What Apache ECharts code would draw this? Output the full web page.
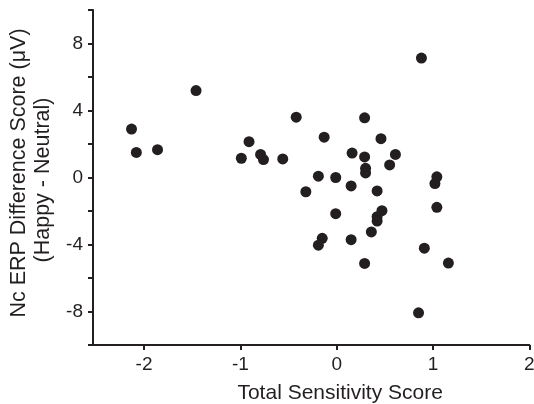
<!DOCTYPE html>
<html>
<head>
<meta charset="utf-8">
<script src="https://cdn.jsdelivr.net/npm/echarts@6/dist/echarts.min.js"></script>
<style>
html,body{margin:0;padding:0;background:#fff;}
#chart{width:534px;height:404px;}
</style>
</head>
<body>
<div id="chart"></div>
<script>
const sensitivity = [-2.13, -2.08, -1.86, -1.46, -0.99, -0.91, -0.79, -0.76, -0.56,
  -0.42, 0.29, -0.13, 0.46, 0.16, 0.29, 0.61, 0.55, 0.30, 0.30, -0.19, -0.01, 1.04, 1.02,
  0.15, -0.32, 0.42, -0.01, 0.47, 0.42, 0.42, 1.04, 0.36, -0.15, -0.19, 0.15, 0.91, 0.29,
  1.16, 0.88, 0.85];
const ercDiff = [2.89, 1.50, 1.66, 5.19, 1.15, 2.14, 1.38, 1.07, 1.11,
  3.60, 3.56, 2.41, 2.32, 1.46, 1.23, 1.38, 0.75, 0.55, 0.27, 0.08, 0.00, 0.04, -0.36,
  -0.50, -0.85, -0.80, -2.16, -1.98, -2.34, -2.60, -1.78, -3.25, -3.63, -4.04, -3.71, -4.22, -5.13,
  -5.11, 7.13, -8.08];
const xTicks = [-2, -1, 0, 1, 2];
const yLabelTicks = [-8, -4, 0, 4, 8];
const yMinorTicks = [-10, -8, -6, -4, -2, 0, 2, 4, 6, 8, 10];
const xName = 'Total Sensitivity Score';
const yNameLine1 = 'Nc ERP Difference Score (\u03bcV)';
const yNameLine2 = '(Happy - Neutral)';

const points = sensitivity.map((x, i) => [x, ercDiff[i]]);
const ink = '#231f20';
const font = 'Liberation Sans, Arial, Helvetica, sans-serif';

const chart = echarts.init(document.getElementById('chart'), null, {renderer: 'canvas'});
chart.setOption({
  animation: false,
  backgroundColor: '#fff',
  grid: {left: 93, right: 4.7, top: 10, bottom: 59, containLabel: false, outerBoundsMode: 'none'},
  xAxis: {
    type: 'value', min: -2.53, max: 2,
    splitLine: {show: false},
    axisLine: {show: true, onZero: false, lineStyle: {color: ink, width: 2}},
    axisTick: {show: true, customValues: xTicks, length: 5, lineStyle: {color: ink, width: 2}},
    axisLabel: {customValues: xTicks, color: ink, fontSize: 19, fontFamily: font, margin: 10},
    name: xName, nameLocation: 'middle', nameGap: 38,
    nameTextStyle: {color: ink, fontSize: 21, fontFamily: font, padding: [0, 0, 0, 58]}
  },
  yAxis: {
    type: 'value', min: -10, max: 10,
    splitLine: {show: false},
    axisLine: {show: true, onZero: false, lineStyle: {color: ink, width: 2}},
    axisTick: {show: true, customValues: yMinorTicks, length: 5, lineStyle: {color: ink, width: 2}},
    axisLabel: {customValues: yLabelTicks, color: ink, fontSize: 19, fontFamily: font, margin: 10},
    name: '{a|' + yNameLine1 + '}\n{b|' + yNameLine2 + '}',
    nameLocation: 'middle', nameGap: 32, nameRotate: 90,
    nameTextStyle: {
      color: ink, fontSize: 21.5, lineHeight: 24, fontFamily: font,
      rich: {
        a: {color: ink, fontSize: 21.5, lineHeight: 24, fontFamily: font, padding: [0, 0, 0, 9]},
        b: {color: ink, fontSize: 21.5, lineHeight: 24, fontFamily: font, padding: [0, 5, 0, 0]}
      }
    }
  },
  series: [{
    type: 'scatter',
    data: points,
    symbol: 'circle',
    symbolSize: 11,
    itemStyle: {color: ink, opacity: 1}
  }]
});
</script>
</body>
</html>
